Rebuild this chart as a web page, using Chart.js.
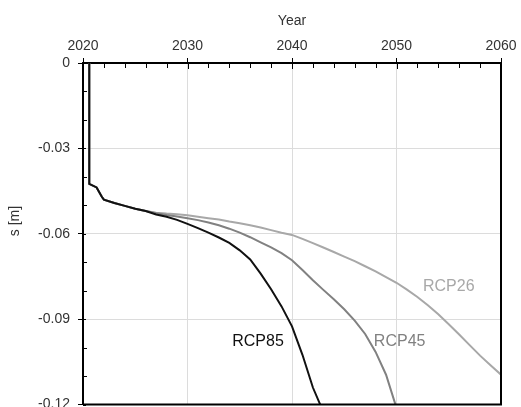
<!DOCTYPE html>
<html lang="en">
<head>
  <meta charset="UTF-8">
  <title>Settlement scenarios</title>
  <script src="https://cdn.jsdelivr.net/npm/chart.js"></script>
  <style>
    body {
      margin: 0;
      background: #fff;
      overflow: hidden;
    }
  </style>
</head>
<body>
  <canvas id="settlementChart" width="521" height="421"></canvas>

  <script>
    // values
    const xTicks = [2020, 2030, 2040, 2050, 2060];
    const yTicks = [0, -0.03, -0.06, -0.09, -0.12];

    const trunkYears = [2020.6, 2020.6, 2021.3, 2021.8, 2022, 2023, 2024, 2025, 2026];
    const trunkValues = [0, -0.0425, -0.0437, -0.047, -0.048, -0.0492, -0.0502, -0.0512, -0.052];

    const rcp85Years = [2027, 2028, 2029, 2030, 2031, 2032, 2033, 2034, 2035, 2036, 2037, 2038, 2039, 2040, 2041, 2042, 2042.7];
    const rcp85Values = [-0.0532, -0.054, -0.0551, -0.0565, -0.058, -0.0596, -0.0613, -0.0632, -0.0658, -0.069, -0.074, -0.0795, -0.0855, -0.0925, -0.1025, -0.114, -0.12];

    const rcp45Years = [2027, 2028, 2029, 2030, 2031, 2032, 2033, 2034, 2035, 2036, 2037, 2038, 2039, 2040, 2041, 2042, 2043, 2044, 2045, 2046, 2047, 2048, 2049, 2049.9];
    const rcp45Values = [-0.0528, -0.0534, -0.0539, -0.0545, -0.0552, -0.056, -0.057, -0.0582, -0.0596, -0.0612, -0.063, -0.0648, -0.0668, -0.0693, -0.0727, -0.0763, -0.0797, -0.083, -0.0865, -0.0905, -0.0952, -0.1015, -0.1095, -0.12];

    const rcp26Years = [2027, 2028, 2029, 2030, 2031, 2032, 2033, 2034, 2035, 2036, 2037, 2038, 2039, 2040, 2041, 2042, 2043, 2044, 2045, 2046, 2047, 2048, 2049, 2050, 2051, 2052, 2053, 2054, 2055, 2056, 2057, 2058, 2059, 2060];
    const rcp26Values = [-0.0526, -0.0529, -0.0531, -0.0535, -0.054, -0.0545, -0.055, -0.0557, -0.0563, -0.057, -0.0578, -0.0587, -0.0596, -0.0604, -0.0618, -0.0633, -0.0648, -0.0664, -0.068, -0.0696, -0.0714, -0.0732, -0.0752, -0.0772, -0.0796, -0.0822, -0.0851, -0.0883, -0.0918, -0.0954, -0.0991, -0.1028, -0.1062, -0.1095];

    const seriesNames = ['RCP85', 'RCP45', 'RCP26'];
    const seriesColors = ['#111111', '#818181', '#a8a8a8'];
    // where the scenario names sit, in data units
    const labelYears = [2036.75, 2050.3, 2055.0];
    const labelValues = [-0.0978, -0.0978, -0.0787];

    const FONT = 'Liberation Sans, Arial, sans-serif';

    function toPoints(xs, ys) {
      return xs.map((v, i) => ({ x: v, y: ys[i] }));
    }

    const trunk = toPoints(trunkYears, trunkValues);
    const seriesData = [
      trunk.concat(toPoints(rcp85Years, rcp85Values)),
      trunk.concat(toPoints(rcp45Years, rcp45Values)),
      trunk.concat(toPoints(rcp26Years, rcp26Values))
    ];

    // minor ticks, right/bottom frame, y title, curve labels
    const axisDecor = {
      id: 'axisDecor',
      afterDatasetsDraw(chart) {
        const { ctx, chartArea: a, scales: { x, y } } = chart;
        ctx.save();
        ctx.strokeStyle = '#000';
        ctx.lineWidth = 1;
        ctx.beginPath();
        for (let yr = 2020; yr <= 2060; yr += 2) {
          const px = Math.round(x.getPixelForValue(yr)) + 0.5;
          const len = yr % 10 === 0 ? 6 : 5;
          ctx.moveTo(px, a.top);
          ctx.lineTo(px, a.top + len);
        }
        for (let k = 0; k <= 12; k++) {
          const py = Math.round(y.getPixelForValue(-k / 100)) + 0.5;
          const len = k % 3 === 0 ? 3 : 4;
          ctx.moveTo(a.left, py);
          ctx.lineTo(a.left + len, py);
        }
        ctx.stroke();

        ctx.lineWidth = 2;
        ctx.beginPath();
        ctx.moveTo(a.right, a.top);
        ctx.lineTo(a.right, a.bottom);
        ctx.lineTo(a.left, a.bottom);
        ctx.stroke();

        ctx.fillStyle = '#333';
        ctx.font = '14px ' + FONT;
        ctx.textAlign = 'center';
        ctx.textBaseline = 'middle';
        ctx.save();
        ctx.translate(15, 221);
        ctx.rotate(-Math.PI / 2);
        ctx.fillText('s [m]', 0, 0);
        ctx.restore();

        ctx.font = '16px ' + FONT;
        seriesNames.forEach((name, i) => {
          ctx.fillStyle = seriesColors[i];
          ctx.fillText(name, x.getPixelForValue(labelYears[i]), y.getPixelForValue(labelValues[i]));
        });
        ctx.restore();
      }
    };

    const ctx = document.getElementById('settlementChart').getContext('2d');
    new Chart(ctx, {
      type: 'line',
      data: {
        datasets: seriesNames.map((name, i) => ({
          label: name,
          data: seriesData[i],
          borderColor: seriesColors[i],
          borderWidth: 2,
          pointRadius: 0,
          tension: 0,
          fill: false
        }))
      },
      options: {
        responsive: false,
        animation: false,
        layout: { padding: { right: 20, left: 0, top: 0, bottom: 0 } },
        plugins: {
          legend: { display: false },
          tooltip: { enabled: false }
        },
        scales: {
          x: {
            type: 'linear',
            position: 'top',
            min: 2020,
            max: 2060,
            afterBuildTicks: s => { s.ticks = xTicks.map(v => ({ value: v })); },
            afterFit: s => { s.height = 63; },
            ticks: {
              callback: v => String(v),
              color: '#333',
              font: { family: FONT, size: 14 },
              padding: 3,
              maxRotation: 0
            },
            grid: { color: '#dcdcdc', tickColor: '#000', tickLength: 5, lineWidth: 1 },
            border: { color: '#000', width: 2 },
            title: {
              display: true,
              text: 'Year',
              color: '#333',
              font: { family: FONT, size: 14 },
              padding: { top: 13, bottom: 0 }
            }
          },
          y: {
            type: 'linear',
            min: -0.12,
            max: 0,
            afterBuildTicks: s => { s.ticks = yTicks.map(v => ({ value: v })); },
            afterFit: s => { s.width = 83; },
            ticks: {
              callback: v => String(Number(v.toFixed(2))),
              color: '#333',
              font: { family: FONT, size: 14 },
              padding: 8
            },
            grid: { color: '#dcdcdc', tickColor: '#000', tickLength: 5, lineWidth: 1 },
            border: { color: '#000', width: 2 },
            title: { display: false }
          }
        }
      },
      plugins: [axisDecor]
    });
  </script>
</body>
</html>
